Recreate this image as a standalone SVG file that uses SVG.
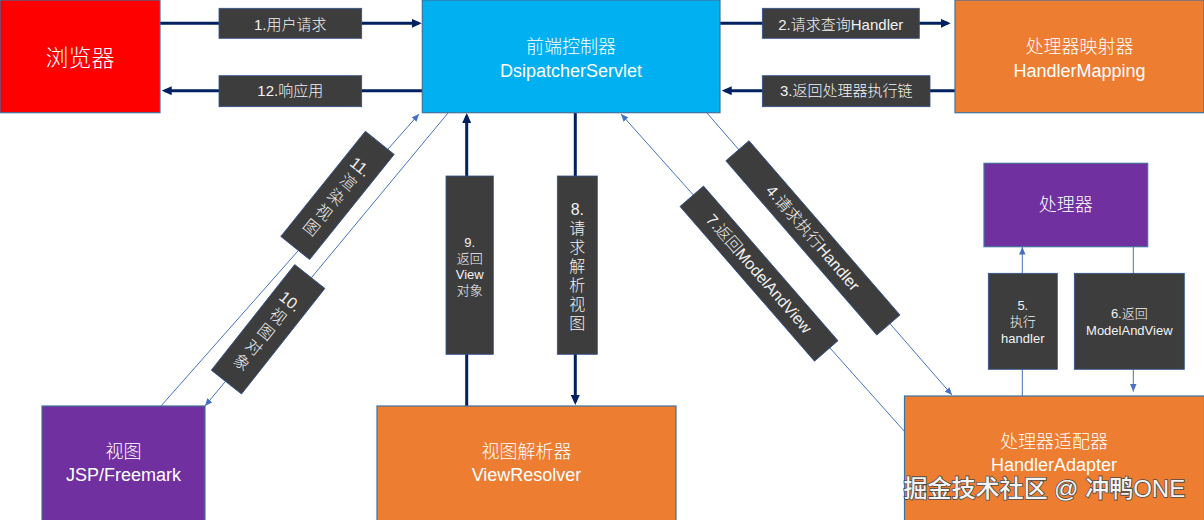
<svg xmlns="http://www.w3.org/2000/svg" width="1204" height="520" viewBox="0 0 1204 520">
<style>
text{font-family:"Liberation Sans","Noto Sans CJK SC",sans-serif;text-anchor:middle;font-weight:300}
.nt{fill:#FFFFFF;font-size:18px}
.box{stroke:#41719C;stroke-width:1.2}
.lbl rect{fill:#3D3D3D;stroke:#2F528F;stroke-width:0.8}
.lbl text{fill:#F2F2F2;font-size:15px}
.thick{stroke:#002060;stroke-width:3;fill:none}
.thin{stroke:#4472C4;stroke-width:1;fill:none}
</style>
<defs>
<marker id="ah" markerUnits="userSpaceOnUse" markerWidth="10" markerHeight="9" refX="7" refY="4.5" orient="auto"><path d="M0,0 L10,4.5 L0,9 z" fill="#002060"/></marker>
<marker id="ahs" markerUnits="userSpaceOnUse" markerWidth="8" markerHeight="7" refX="7.5" refY="3.25" orient="auto"><path d="M0,0 L7.5,3.25 L0,6.5 z" fill="#4472C4"/></marker>
</defs>
<rect width="1204" height="520" fill="#FFFFFF"/>
<g id="connectors">
<line class="thick" x1="160" y1="23.3" x2="418.7" y2="23.3" marker-end="url(#ah)"/>
<line class="thick" x1="422" y1="90.7" x2="164.7" y2="90.7" marker-end="url(#ah)"/>
<line class="thick" x1="720" y1="23.3" x2="947.7" y2="23.3" marker-end="url(#ah)"/>
<line class="thick" x1="955" y1="90.7" x2="724.7" y2="90.7" marker-end="url(#ah)"/>
<line class="thick" x1="466.7" y1="406" x2="466.7" y2="116" marker-end="url(#ah)"/>
<line class="thick" x1="575.3" y1="113" x2="575.3" y2="402" marker-end="url(#ah)"/>
<line class="thin" x1="161" y1="406" x2="419" y2="114" marker-end="url(#ahs)"/>
<line class="thin" x1="448" y1="113" x2="205" y2="406" marker-end="url(#ahs)"/>
<line class="thin" x1="707" y1="113" x2="952" y2="395" marker-end="url(#ahs)"/>
<line class="thin" x1="905" y1="432" x2="621" y2="114" marker-end="url(#ahs)"/>
<line class="thin" x1="1022.3" y1="396" x2="1022.3" y2="247" marker-end="url(#ahs)"/>
<line class="thin" x1="1133.3" y1="247" x2="1133.3" y2="391.5" marker-end="url(#ahs)"/>
</g>
<g id="connector-labels" class="lbl">
<g id="l1"><rect x="219" y="8.3" width="142.7" height="30"/><text x="290.3" y="30">1.用户请求</text></g>
<g id="l12"><rect x="219" y="75.7" width="142.7" height="31"/><text x="290.3" y="96">12.响应用</text></g>
<g id="l2"><rect x="762.3" y="8.3" width="157" height="30"/><text x="840.8" y="30">2.请求查询Handler</text></g>
<g id="l3"><rect x="762.3" y="75.7" width="167.7" height="31"/><text x="846.2" y="96">3.返回处理器执行链</text></g>
<g id="l9"><rect x="446" y="176" width="47.3" height="178.3"/><text x="469.7" style="font-size:13px"><tspan x="469.7" y="247">9.</tspan><tspan x="469.7" y="263">返回</tspan><tspan x="469.7" y="279">View</tspan><tspan x="469.7" y="295">对象</tspan></text></g>
<g id="l8"><rect x="557.3" y="176" width="40" height="178.3"/><text x="577.3" style="font-size:16px"><tspan x="577.3" y="214.6">8.</tspan><tspan x="577.3" y="234">请</tspan><tspan x="577.3" y="252.5">求</tspan><tspan x="577.3" y="272">解</tspan><tspan x="577.3" y="290.5">析</tspan><tspan x="577.3" y="309.5">视</tspan><tspan x="577.3" y="329">图</tspan></text></g>
<g id="l5"><rect x="988.3" y="273.3" width="69" height="96"/><text style="font-size:13px"><tspan x="1022.8" y="309.5">5.</tspan><tspan x="1022.8" y="326">执行</tspan><tspan x="1022.8" y="342.5">handler</tspan></text></g>
<g id="l6"><rect x="1074.3" y="273.3" width="110" height="96"/><text style="font-size:13px"><tspan x="1129.3" y="317.5">6.返回</tspan><tspan x="1129.3" y="334.5">ModelAndView</tspan></text></g>
<g id="l11" transform="translate(337.5,195.4) rotate(38.8)"><rect x="-18.5" y="-67.5" width="37" height="135"/><text style="font-size:16px"><tspan x="0" y="-31">11.</tspan><tspan x="0" y="-11.5">渲</tspan><tspan x="0" y="8">染</tspan><tspan x="0" y="27.5">视</tspan><tspan x="0" y="47">图</tspan></text></g>
<g id="l10" transform="translate(268.1,329.3) rotate(38.3)"><rect x="-19.25" y="-67.3" width="38.5" height="134.6"/><text style="font-size:16px"><tspan x="0" y="-30">10.</tspan><tspan x="0" y="-10.5">视</tspan><tspan x="0" y="9">图</tspan><tspan x="0" y="28.5">对</tspan><tspan x="0" y="48">象</tspan></text></g>
<g id="l4" transform="translate(812.9,237.9) rotate(49.1)"><rect x="-115.3" y="-15.35" width="230.6" height="30.7"/><text x="0" y="5.5" style="font-size:16px">4.请求执行Handler</text></g>
<g id="l7" transform="translate(759,273.6) rotate(49)"><rect x="-102.5" y="-15.6" width="205" height="31.2"/><text x="0" y="5.5" style="font-size:16px">7.返回ModelAndView</text></g>
</g>
<g id="browser"><rect class="box" x="0" y="0" width="160" height="112.7" fill="#FF0000"/><text class="nt" x="80" y="66" style="font-size:23px">浏览器</text></g>
<g id="dispatcher"><rect class="box" x="422.3" y="0" width="297.7" height="112.7" fill="#00B0F0"/><text class="nt" x="571" y="53">前端控制器</text><text class="nt" x="571" y="77">DsipatcherServlet</text></g>
<g id="handler-mapping"><rect class="box" x="955" y="0" width="249" height="112.7" fill="#ED7D31"/><text class="nt" x="1079.5" y="53">处理器映射器</text><text class="nt" x="1079.5" y="77">HandlerMapping</text></g>
<g id="handler"><rect class="box" x="984" y="163.3" width="163.7" height="83.4" fill="#7030A0"/><text class="nt" x="1065.8" y="211">处理器</text></g>
<g id="view"><rect class="box" x="42" y="406" width="163" height="115" fill="#7030A0"/><text class="nt" x="123.5" y="458">视图</text><text class="nt" x="123.5" y="481">JSP/Freemark</text></g>
<g id="view-resolver"><rect class="box" x="377" y="406" width="299" height="115" fill="#ED7D31"/><text class="nt" x="526.5" y="458">视图解析器</text><text class="nt" x="526.5" y="481">ViewResolver</text></g>
<g id="handler-adapter"><rect class="box" x="904.5" y="396" width="300" height="125" fill="#ED7D31"/><text class="nt" x="1054" y="448">处理器适配器</text><text class="nt" x="1054" y="471">HandlerAdapter</text></g>
<text x="1044.3" y="497" style="font-size:24px;font-weight:500;fill:#F4F4F4;stroke:#4A4A4A;stroke-width:1.6;paint-order:stroke">掘金技术社区 @ 冲鸭ONE</text>
</svg>
